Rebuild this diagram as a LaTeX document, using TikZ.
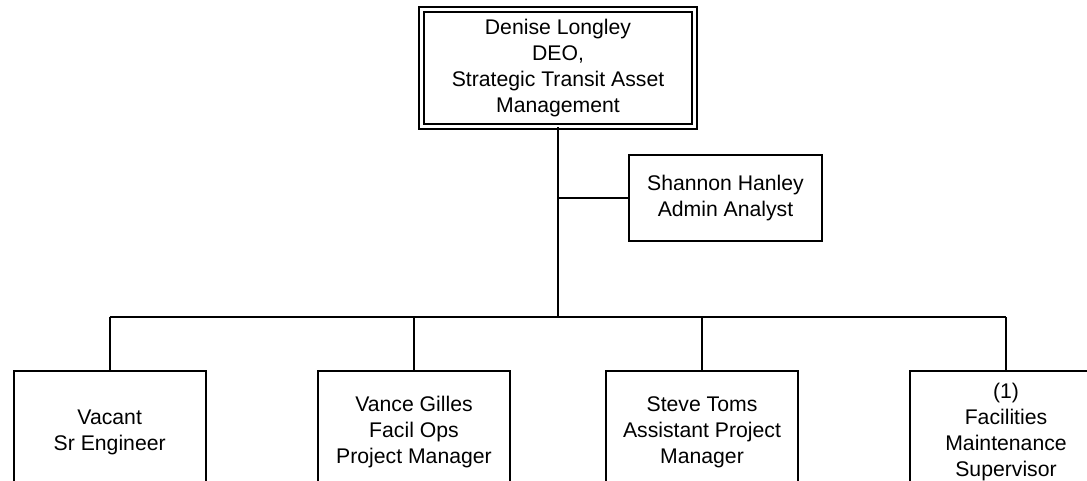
\documentclass[tikz,border=0pt]{standalone}
\usepackage{fontspec}
\setmainfont{Liberation Sans}
\usepackage{tikz}
\usetikzlibrary{positioning}
\tikzset{
  orgbox/.style={
    draw=black, line width=1pt, align=center, inner sep=2pt,
    font=\fontsize{10.6}{13}\selectfont,
    minimum width=96pt, minimum height=61pt
  },
  headbox/.style={orgbox, double, double distance=1.75pt, line width=0.75pt,
    minimum width=136.5pt, minimum height=58.5pt},
  staffbox/.style={orgbox, minimum width=96.5pt, minimum height=43pt},
  link/.style={draw=black, line width=1pt},
  thinlink/.style={draw=black, line width=0.65pt}
}

\begin{document}
\begin{tikzpicture}[x=0.5pt,y=-0.5pt]
  \useasboundingbox (0,0) rectangle (1087,481);
  \clip (0,0) rectangle (1087,481);

  \node[headbox] (deo) at (558,68)
    {Denise Longley\\DEO,\\Strategic Transit Asset\\Management};
  \node[staffbox] (hanley) at (725.5,198) {Shannon Hanley\\Admin Analyst};

  \node[orgbox] (vacant) at (109.7,432) {Vacant\\Sr Engineer};
  \node[orgbox] (gilles) at (414,432) {Vance Gilles\\Facil Ops\\Project Manager};
  \node[orgbox] (toms) at (702,432) {Steve Toms\\Assistant Project\\Manager};
  \node[orgbox] (fms) at (1006,432) {(1)\\Facilities\\Maintenance\\Supervisor};

  \coordinate (bus) at (558,317);

  \draw[link] (deo.south) -- (bus);
  \draw[thinlink] (hanley.west) -- (hanley.west -| deo.south);
  \draw[link] (bus -| vacant.north) -- (bus -| fms.north);
  \draw[link] (vacant.north) -- (vacant.north |- bus);
  \draw[link] (gilles.north) -- (gilles.north |- bus);
  \draw[link] (toms.north) -- (toms.north |- bus);
  \draw[link] (fms.north) -- (fms.north |- bus);
\end{tikzpicture}
\end{document}
